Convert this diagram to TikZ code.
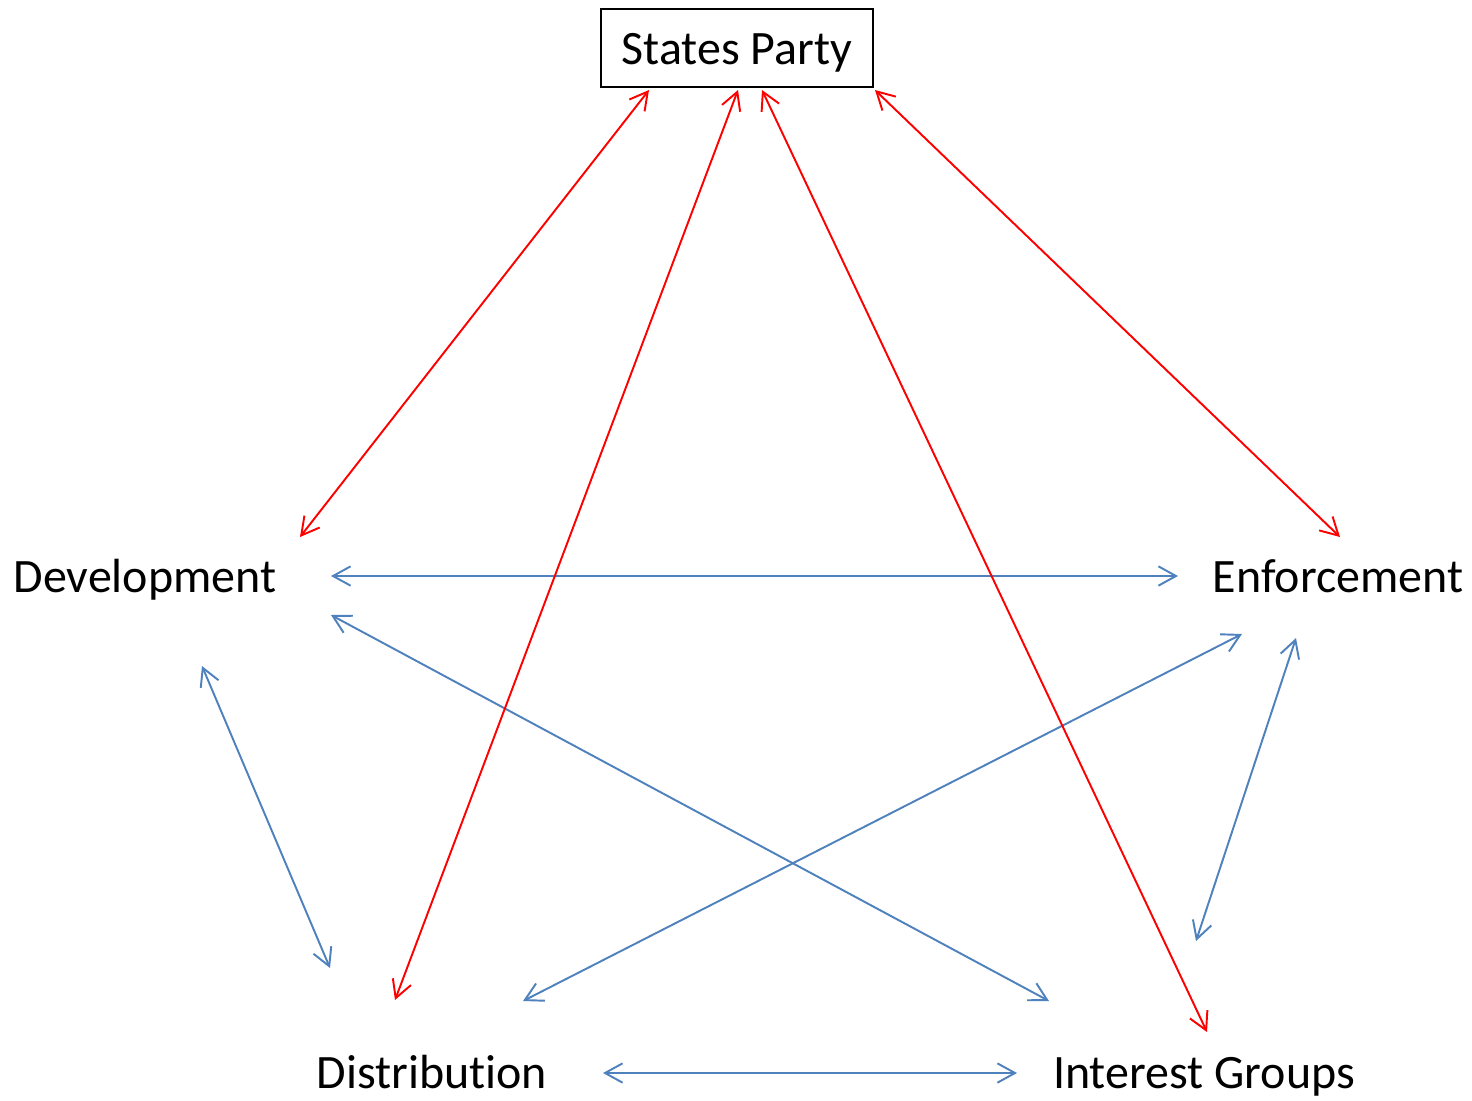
\documentclass[tikz,border=0pt]{standalone}
\usepackage{fontspec}
\setmainfont{Carlito}[Ligatures=NoCommon]
\usetikzlibrary{arrows.meta}
\definecolor{linkblue}{RGB}{79,129,189}

\begin{document}
\begin{tikzpicture}[x=0.02cm,y=0.02cm]
\tikzstyle{every node}+=[inner sep=0pt, font=\fontsize{27.3}{32}\selectfont]
\tikzstyle{redlink}=[red, line width=1.1pt, {Straight Barb[length=10pt,width=11pt]}-{Straight Barb[length=10pt,width=11pt]}]
\tikzstyle{bluelink}=[linkblue, line width=1.1pt, {Straight Barb[length=10pt,width=11pt]}-{Straight Barb[length=10pt,width=11pt]}]
\useasboundingbox (0,0) rectangle (1472,-1100);
% the five actors
\draw [line width=1.1pt] (601,-9) rectangle (873,-87);
\node [anchor=base] (sp) at (737,-64) {States Party};
\node [anchor=base] (dev) at (145,-592) {Development};
\node [anchor=base] (enf) at (1338,-592) {Enforcement};
\node [anchor=base] (dis) at (432,-1088) {Distribution};
\node [anchor=base] (int) at (1204,-1088) {Interest Groups};
% arrow ends
\coordinate (sp-a) at (649,-90);
\coordinate (sp-b) at (738,-90);
\coordinate (sp-c) at (762,-90);
\coordinate (sp-d) at (875,-90);
\coordinate (dev-a) at (300,-537);
\coordinate (dev-b) at (331,-576);
\coordinate (dev-c) at (331,-615);
\coordinate (dev-d) at (202,-666);
\coordinate (enf-a) at (1340,-537);
\coordinate (enf-b) at (1178,-576);
\coordinate (enf-c) at (1242,-634);
\coordinate (enf-d) at (1296,-638);
\coordinate (dis-a) at (395,-1000);
\coordinate (dis-b) at (523,-1001);
\coordinate (dis-c) at (330,-968);
\coordinate (dis-d) at (603,-1073);
\coordinate (int-a) at (1207,-1032);
\coordinate (int-b) at (1049,-1001);
\coordinate (int-c) at (1196,-941);
\coordinate (int-d) at (1017,-1073);
% links among the four
\draw [bluelink] (dev-b) -- (enf-b);
\draw [bluelink] (dev-c) -- (int-b);
\draw [bluelink] (enf-c) -- (dis-b);
\draw [bluelink] (dev-d) -- (dis-c);
\draw [bluelink] (enf-d) -- (int-c);
\draw [bluelink] (dis-d) -- (int-d);
% links to the states party
\draw [redlink] (sp-a) -- (dev-a);
\draw [redlink] (sp-b) -- (dis-a);
\draw [redlink] (sp-c) -- (int-a);
\draw [redlink] (sp-d) -- (enf-a);
\end{tikzpicture}
\end{document}
